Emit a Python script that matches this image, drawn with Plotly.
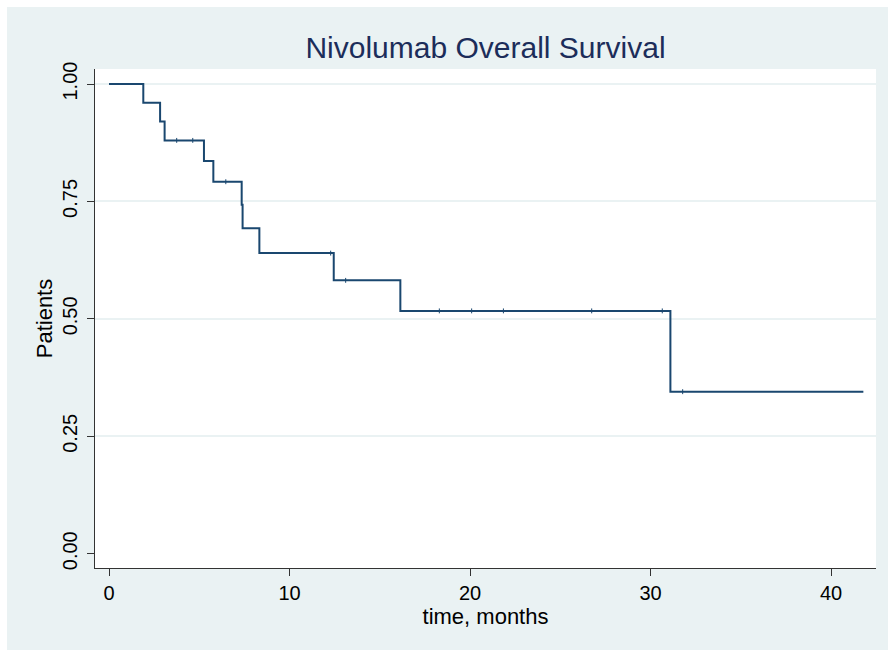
import plotly.graph_objects as go

# Kaplan-Meier estimate
event_times = [0.0, 1.90, 2.83, 3.08, 5.26, 5.78, 7.35, 7.40, 8.33, 12.45, 16.14, 31.10]
survival = [1.000, 0.960, 0.920, 0.880, 0.836, 0.792, 0.743, 0.693, 0.640, 0.582, 0.517, 0.345]
end_time = 41.79
censor_times = [3.75, 4.64, 6.47, 12.28, 13.11, 18.30, 20.09, 21.85, 26.74, 30.65, 31.78]

x_ticks = [0, 10, 20, 30, 40]
y_ticks = [0.0, 0.25, 0.50, 0.75, 1.00]
y_tick_labels = ["0.00", "0.25", "0.50", "0.75", "1.00"]

NAVY = "#1a476f"
BG = "#eaf2f3"
FONT = "Liberation Sans, Arial, Helvetica, sans-serif"


def surv_at(t):
    s = survival[0]
    for et, sv in zip(event_times, survival):
        if et <= t:
            s = sv
    return s


step_x = event_times + [end_time]
step_y = survival + [survival[-1]]
censor_y = [surv_at(t) for t in censor_times]

fig = go.Figure()
fig.add_trace(go.Scatter(
    x=step_x, y=step_y, mode="lines", line=dict(shape="hv", color=NAVY, width=2),
    hoverinfo="skip", showlegend=False))
fig.add_trace(go.Scatter(
    x=censor_times, y=censor_y, mode="markers",
    marker=dict(symbol="line-ns", size=3.5, line=dict(color=NAVY, width=1)),
    hoverinfo="skip", showlegend=False))

W, H = 888, 650
L, R, T, B = 95, 12, 69, 82
pw, ph = W - L - R, H - T - B

def px_x(p):
    return (p - L) / pw

def px_y(p):
    return (H - B - p) / ph

fig.update_layout(
    width=W, height=H,
    margin=dict(l=L, r=R, t=T, b=B, autoexpand=False),
    paper_bgcolor="white", plot_bgcolor="white",
    font=dict(family=FONT, color="black"),
    title=dict(text="Nivolumab Overall Survival", x=0.5, xref="paper", xanchor="center",
               y=1 - 47 / H, yref="container", yanchor="middle",
               font=dict(size=30, color="#1c2d5a", family=FONT)),
    shapes=[
        dict(type="rect", xref="paper", yref="paper", layer="below",
             x0=px_x(7), x1=px_x(W + 2), y0=px_y(H + 2), y1=px_y(7),
             fillcolor=BG, line=dict(width=0)),
        dict(type="rect", xref="paper", yref="paper", layer="below",
             x0=0, x1=1, y0=0, y1=1, fillcolor="white", line=dict(width=0)),
    ],
    xaxis=dict(
        range=[-0.776, 42.49], tickvals=x_ticks, ticktext=[str(v) for v in x_ticks],
        showgrid=False, zeroline=False, showline=True, linecolor="#333333", linewidth=1.3,
        ticks="outside", ticklen=7, tickwidth=1.3, tickcolor="#333333",
        tickfont=dict(size=20, color="black"), ticklabelstandoff=0,
        title=dict(text="time, months", font=dict(size=22, color="black"), standoff=2),
    ),
    yaxis=dict(
        range=[-0.0304, 1.032], tickvals=y_ticks, ticktext=y_tick_labels, tickangle=-90,
        showgrid=True, gridcolor=BG, gridwidth=1.5,
        zeroline=True, zerolinecolor="white", zerolinewidth=1.5,
        showline=True, linecolor="#333333", linewidth=1.3,
        ticks="outside", ticklen=7, tickwidth=1.3, tickcolor="#333333",
        tickfont=dict(size=20, color="black"), ticklabelstandoff=2,
        title=dict(text="Patients", font=dict(size=22, color="black"), standoff=0),
    ),
)

fig.write_html("out.html")
